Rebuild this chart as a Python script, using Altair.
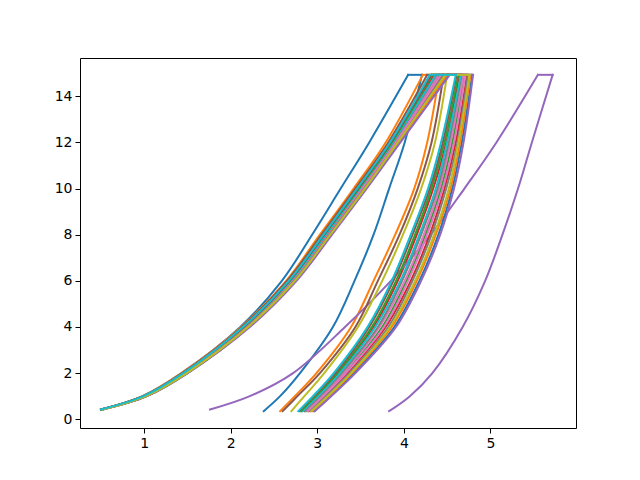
import altair as alt
import pandas as pd

y_left = [0.42, 1, 2, 4, 6, 8, 10, 12, 14.93]
y_right = [0.35, 1, 2, 4, 6, 8, 10, 12, 14.93]

cycle = ["#1f77b4", "#ff7f0e", "#2ca02c", "#d62728", "#9467bd",
         "#8c564b", "#e377c2", "#7f7f7f", "#bcbd22", "#17becf"]

# left (rising) branch x values, one list per curve
left_x = [
    [0.50, 0.98, 1.43, 2.11, 2.59, 2.94, 3.27, 3.60, 4.05],   # 0 blue
    [0.50, 0.98, 1.43, 2.12, 2.64, 3.03, 3.42, 3.79, 4.22],   # 1 orange
    [0.51, 1.01, 1.47, 2.18, 2.71, 3.12, 3.51, 3.90, 4.41],   # 2 green
    [0.50, 1.00, 1.46, 2.16, 2.69, 3.09, 3.48, 3.87, 4.35],   # 3 red
    [1.76, 2.22, 2.72, 3.32, 3.85, 4.31, 4.70, 5.07, 5.55],   # 4 purple
    [0.50, 0.99, 1.44, 2.13, 2.65, 3.05, 3.44, 3.82, 4.27],   # 5 brown
    [0.51, 1.01, 1.47, 2.17, 2.71, 3.11, 3.51, 3.89, 4.40],   # 6 pink
    [0.51, 1.00, 1.47, 2.17, 2.70, 3.11, 3.50, 3.88, 4.38],   # 7 gray
    [0.51, 1.00, 1.46, 2.15, 2.68, 3.08, 3.48, 3.86, 4.32],   # 8 olive
    [0.51, 1.00, 1.46, 2.16, 2.70, 3.10, 3.49, 3.87, 4.37],   # 9 cyan
    [0.52, 1.03, 1.50, 2.21, 2.75, 3.16, 3.56, 3.95, 4.51],   # 10 blue
    [0.52, 1.02, 1.49, 2.21, 2.75, 3.16, 3.55, 3.94, 4.50],   # 11 orange
    [0.50, 1.00, 1.46, 2.15, 2.68, 3.08, 3.48, 3.86, 4.33],   # 12 green
    [0.51, 1.02, 1.48, 2.19, 2.73, 3.13, 3.53, 3.92, 4.45],   # 13 red
    [0.52, 1.03, 1.50, 2.22, 2.76, 3.17, 3.57, 3.96, 4.53],   # 14 purple
    [0.50, 0.99, 1.45, 2.15, 2.68, 3.08, 3.47, 3.85, 4.32],   # 15 brown
    [0.51, 1.01, 1.48, 2.19, 2.72, 3.13, 3.52, 3.91, 4.43],   # 16 pink
    [0.51, 1.02, 1.49, 2.20, 2.73, 3.14, 3.54, 3.93, 4.46],   # 17 gray
    [0.52, 1.02, 1.49, 2.20, 2.74, 3.15, 3.55, 3.93, 4.48],   # 18 olive
    [0.50, 0.99, 1.45, 2.14, 2.67, 3.07, 3.46, 3.84, 4.30],   # 19 cyan
]

# right (falling) branch x values, listed bottom to top
right_x = [
    [2.38, 2.57, 2.80, 3.18, 3.43, 3.65, 3.83, 4.01, 4.21],   # 0 blue
    [2.57, 2.74, 2.99, 3.39, 3.65, 3.90, 4.12, 4.27, 4.41],   # 1 orange
    [2.87, 3.06, 3.32, 3.75, 4.03, 4.25, 4.43, 4.56, 4.70],   # 2 green
    [2.82, 3.00, 3.24, 3.65, 3.93, 4.15, 4.34, 4.49, 4.64],   # 3 red
    [3.83, 4.07, 4.33, 4.68, 4.94, 5.14, 5.32, 5.48, 5.72],   # 4 purple
    [2.60, 2.77, 3.03, 3.44, 3.70, 3.95, 4.16, 4.32, 4.46],   # 5 brown
    [2.86, 3.04, 3.30, 3.72, 4.01, 4.23, 4.41, 4.54, 4.69],   # 6 pink
    [2.85, 3.03, 3.28, 3.70, 3.98, 4.20, 4.39, 4.52, 4.67],   # 7 gray
    [2.70, 2.85, 3.08, 3.47, 3.75, 3.99, 4.20, 4.36, 4.50],   # 8 olive
    [2.83, 3.01, 3.26, 3.67, 3.96, 4.18, 4.37, 4.50, 4.66],   # 9 cyan
    [2.96, 3.15, 3.42, 3.89, 4.18, 4.40, 4.56, 4.67, 4.79],   # 10 blue
    [2.94, 3.13, 3.40, 3.86, 4.15, 4.37, 4.54, 4.65, 4.77],   # 11 orange
    [2.81, 2.98, 3.23, 3.63, 3.91, 4.13, 4.32, 4.47, 4.63],   # 12 green
    [2.90, 3.09, 3.35, 3.79, 4.08, 4.30, 4.47, 4.60, 4.73],   # 13 red
    [2.97, 3.16, 3.44, 3.91, 4.20, 4.42, 4.58, 4.69, 4.80],   # 14 purple
    [2.79, 2.96, 3.21, 3.60, 3.88, 4.10, 4.30, 4.45, 4.61],   # 15 brown
    [2.89, 3.07, 3.33, 3.77, 4.05, 4.27, 4.45, 4.58, 4.71],   # 16 pink
    [2.92, 3.10, 3.37, 3.82, 4.10, 4.32, 4.49, 4.62, 4.74],   # 17 gray
    [2.93, 3.12, 3.39, 3.84, 4.13, 4.35, 4.52, 4.63, 4.76],   # 18 olive
    [2.78, 2.95, 3.19, 3.58, 3.86, 4.08, 4.28, 4.43, 4.60],   # 19 cyan
]

x_ticks = [1, 2, 3, 4, 5]
y_ticks = [0, 2, 4, 6, 8, 10, 12, 14]

rows = []
for i in range(len(left_x)):
    col = cycle[i % 10]
    # rising branch
    for j, (xv, yv) in enumerate(zip(left_x[i], y_left)):
        rows.append({"x": xv, "y": yv, "key": f"{i:02d}a", "o": j, "c": col})
    # flat top
    rows.append({"x": left_x[i][-1], "y": y_left[-1], "key": f"{i:02d}b", "o": 0, "c": col})
    rows.append({"x": right_x[i][-1], "y": y_right[-1], "key": f"{i:02d}b", "o": 1, "c": col})
    # falling branch
    for j, (xv, yv) in enumerate(zip(right_x[i], y_right)):
        rows.append({"x": xv, "y": yv, "key": f"{i:02d}c", "o": j, "c": col})

df = pd.DataFrame(rows)

font = "DejaVu Sans"
chart = alt.Chart(df).mark_line(strokeWidth=2, interpolate="catmull-rom",
                                strokeJoin="miter", strokeCap="square").encode(
    x=alt.X("x:Q", scale=alt.Scale(domain=[0.257, 5.99], nice=False, zero=False),
            axis=alt.Axis(values=x_ticks, format="d", title=None, grid=False, domain=False,
                          tickColor="black", tickSize=5, tickWidth=1,
                          labelFont=font, labelFontSize=14, labelColor="black", labelPadding=3)),
    y=alt.Y("y:Q", scale=alt.Scale(domain=[-0.38, 15.66], nice=False, zero=False),
            axis=alt.Axis(values=y_ticks, format="d", title=None, grid=False, domain=False,
                          tickColor="black", tickSize=5, tickWidth=1,
                          labelFont=font, labelFontSize=14, labelColor="black", labelPadding=3)),
    color=alt.Color("c:N", scale=None),
    detail="key:N",
    order=alt.Order("o:Q"),
).properties(
    width=496, height=370,
    autosize=alt.AutoSizeParams(type="none"),
    padding={"left": 72, "top": 50, "right": 56, "bottom": 45},
).configure_view(stroke="black", strokeWidth=1)

chart.save("out.html", embed_options={"renderer": "svg", "actions": False})
